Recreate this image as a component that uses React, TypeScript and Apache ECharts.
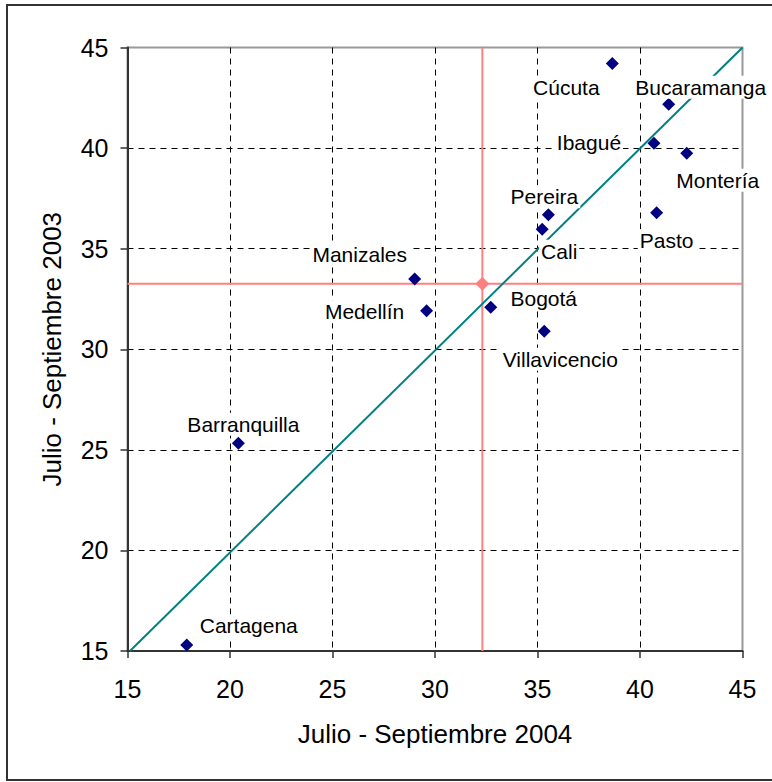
import React, { useEffect, useRef } from "react";
import * as echarts from "echarts";

const cities = [
  "Cúcuta", "Bucaramanga", "Ibagué", "Montería", "Pereira", "Cali", "Pasto",
  "Manizales", "Medellín", "Bogotá", "Villavicencio", "Barranquilla", "Cartagena",
];
const julSep2004 = [38.65, 41.4, 40.68, 42.28, 35.53, 35.23, 40.81, 29.01, 29.59, 32.72, 35.33, 20.41, 17.89];
const julSep2003 = [44.2, 42.18, 40.24, 39.74, 36.68, 35.96, 36.79, 33.49, 31.92, 32.09, 30.9, 25.33, 15.3];
// label offsets (layout only)
const labelOffsets = [
  [-46, 24], [32, -17], [-65, -1], [31, 27], [-4, -18], [17, 22], [10, 28],
  [-55, -25], [-62, 1], [53, -9], [16, 28], [5, -19], [62, -19],
];
const meanX = 32.31;
const meanY = 33.25;
const diagStart = [15.12, 15];
const diagEnd = [45, 45];
const axisMin = 15;
const axisMax = 45;
const axisStep = 5;

const FONT = "'Liberation Sans', Arial, sans-serif";

export default function App() {
  const ref = useRef<HTMLDivElement>(null);
  useEffect(() => {
    if (!ref.current) return;
    const chart = echarts.init(ref.current, null, { renderer: "svg" });
    const nTicks = (axisMax - axisMin) / axisStep + 1;
    const splitColors = Array.from({ length: nTicks }, (_, i) =>
      i === nTicks - 1 ? "rgba(0,0,0,0)" : "#000"
    );
    const axisCommon = {
      type: "value",
      min: axisMin,
      max: axisMax,
      interval: axisStep,
      nameLocation: "middle",
      nameTextStyle: { fontFamily: FONT, fontSize: 26, color: "#000" },
      axisLine: { show: true, lineStyle: { color: "#333", width: 2 } },
      axisTick: { show: true, length: 7, lineStyle: { color: "#333", width: 1.5 } },
      axisLabel: { fontFamily: FONT, fontSize: 25, color: "#000" },
      splitLine: { show: true, lineStyle: { color: splitColors, type: [6, 5], width: 1 } },
    };
    chart.setOption({
      animation: false,
      backgroundColor: "#fff",
      graphic: [
        {
          type: "rect",
          shape: { x: 7, y: 5, width: 820, height: 775 },
          style: { fill: "none", stroke: "#333", lineWidth: 2 },
          silent: true,
        },
      ],
      grid: {
        left: 127.5,
        right: 29.5,
        top: 47.5,
        bottom: 131,
        show: true,
        borderColor: "#999",
        borderWidth: 2,
        backgroundColor: "transparent",
      },
      xAxis: {
        ...axisCommon,
        name: "Julio - Septiembre 2004",
        nameGap: 70,
        axisLabel: { ...axisCommon.axisLabel, margin: 25 },
      },
      yAxis: {
        ...axisCommon,
        name: "Julio - Septiembre 2003",
        nameGap: 63,
        axisLabel: { ...axisCommon.axisLabel, margin: 19 },
      },
      series: [
        {
          type: "line",
          data: [diagStart, diagEnd],
          symbol: "none",
          lineStyle: { color: "#008080", width: 2 },
          z: 2,
          silent: true,
        },
        {
          type: "line",
          data: [[meanX, axisMin], [meanX, axisMax]],
          symbol: "none",
          lineStyle: { color: "#ff8080", width: 2 },
          z: 1,
          silent: true,
        },
        {
          type: "line",
          data: [[axisMin, meanY], [axisMax, meanY]],
          symbol: "none",
          lineStyle: { color: "#ff8080", width: 2 },
          z: 1,
          silent: true,
        },
        {
          type: "scatter",
          data: [[meanX, meanY]],
          symbol: "diamond",
          symbolSize: 14,
          itemStyle: { color: "#ff8080", opacity: 1 },
          z: 3,
        },
        {
          type: "scatter",
          symbol: "diamond",
          symbolSize: 13,
          itemStyle: { color: "#000080", opacity: 1 },
          z: 5,
          data: cities.map((c, i) => ({
            name: c,
            value: [julSep2004[i], julSep2003[i]],
            label: { offset: labelOffsets[i] },
          })),
          label: {
            show: true,
            position: "inside",
            align: "center",
            verticalAlign: "middle",
            formatter: (p: any) => p.name,
            fontFamily: FONT,
            fontSize: 21,
            color: "#000",
            backgroundColor: "#fff",
            padding: [1, 2],
          },
        },
      ],
    });
    return () => chart.dispose();
  }, []);
  return (
    <div
      ref={ref}
      style={{ position: "fixed", left: 0, top: 0, width: 772, height: 782, background: "#fff" }}
    />
  );
}
